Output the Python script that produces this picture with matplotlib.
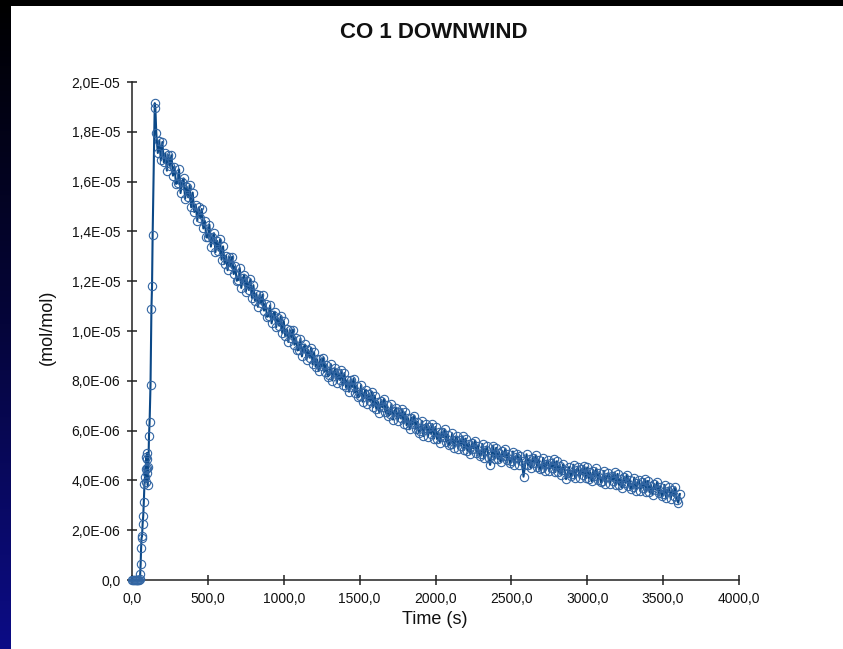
import numpy as np
import matplotlib
matplotlib.use("Agg")
import matplotlib.pyplot as plt
from matplotlib.colors import LinearSegmentedColormap
from matplotlib.patches import Rectangle
from matplotlib.ticker import FuncFormatter, MultipleLocator

plt.rcParams['font.family'] = ['Liberation Sans', 'DejaVu Sans']

# start-up and rise (s, 1e-6 mol/mol)
rise_t = [0, 6, 12, 18, 24, 30, 36, 42, 48, 51, 54, 57, 60, 63, 66, 70, 74, 78,
          82, 86, 89, 92, 94, 96, 98, 100, 102, 104, 108, 112, 116, 122, 128,
          132, 136, 150, 154]
rise_v = [0.0, 0.0, 0.0, 0.0, 0.0, 0.0, 0.0, 0.0, 0.0, 0.05, 0.25, 0.65, 1.28,
          1.70, 1.75, 2.25, 2.58, 3.15, 3.85, 4.15, 4.45, 3.95, 4.95, 4.30,
          5.10, 4.50, 4.85, 3.80, 4.55, 5.80, 6.35, 7.85, 10.9, 11.8, 13.85,
          19.15, 18.95]

# decay, one reading every 10 s from 160 s to 3610 s (1e-6 mol/mol)
decay_start, decay_step = 160, 10
decay_v = [
    17.95, 17.15, 17.65, 16.85,
    17.59, 16.77, 17.13, 16.44, 17.06, 16.63, 17.06, 16.24, 16.60, 15.91,
    15.94, 16.49, 15.54, 15.97, 16.13, 15.31, 15.80, 15.37, 15.86, 14.97,
    15.56, 14.78, 15.08, 14.42, 14.96, 14.54, 14.90, 14.12, 14.42, 13.76,
    13.76, 14.27, 13.39, 13.78, 13.93, 13.17, 13.62, 13.23, 13.68, 12.86,
    13.40, 12.71, 13.02, 12.44, 12.97, 12.61, 12.98, 12.29, 12.60, 12.02,
    12.05, 12.53, 11.73, 12.11, 12.26, 11.58, 12.00, 11.65, 12.08, 11.33,
    11.84, 11.22, 11.49, 10.97, 11.44, 11.12, 11.45, 10.82, 11.10, 10.57,
    10.60, 11.03, 10.31, 10.64, 10.77, 10.15, 10.53, 10.21, 10.59, 9.92,
    10.40, 9.79, 10.07, 9.56, 10.04, 9.73, 10.06, 9.45, 9.73, 9.22,
    9.25, 9.69, 8.98, 9.32, 9.46, 8.85, 9.24, 8.93, 9.32, 8.66,
    9.14, 8.57, 8.86, 8.39, 8.87, 8.59, 8.92, 8.36, 8.65, 8.17,
    8.23, 8.67, 8.01, 8.35, 8.50, 7.93, 8.32, 8.04, 8.43, 7.82,
    8.31, 7.74, 8.03, 7.56, 8.03, 7.75, 8.09, 7.52, 7.81, 7.33,
    7.39, 7.83, 7.16, 7.50, 7.64, 7.07, 7.45, 7.17, 7.55, 6.94,
    7.40, 6.87, 7.16, 6.72, 7.19, 6.93, 7.27, 6.74, 7.03, 6.59,
    6.65, 7.06, 6.44, 6.77, 6.92, 6.38, 6.75, 6.49, 6.86, 6.28,
    6.74, 6.21, 6.50, 6.05, 6.52, 6.26, 6.60, 6.07, 6.36, 5.91,
    5.97, 6.39, 5.78, 6.12, 6.28, 5.75, 6.13, 5.88, 6.26, 5.68,
    6.15, 5.66, 5.93, 5.52, 5.96, 5.73, 6.05, 5.55, 5.83, 5.41,
    5.48, 5.89, 5.30, 5.62, 5.77, 5.27, 5.64, 5.40, 5.77, 5.23,
    5.68, 5.19, 5.47, 5.06, 5.51, 5.28, 5.60, 5.11, 5.39, 4.98,
    5.05, 5.46, 4.89, 5.21, 5.37, 4.88, 4.62, 5.02, 5.40, 4.87,
    5.31, 4.86, 5.12, 4.75, 5.17, 4.96, 5.27, 4.81, 5.08, 4.70,
    4.77, 5.16, 4.63, 4.93, 5.08, 4.63, 4.98, 4.76, 4.15, 4.62,
    5.05, 4.60, 4.86, 4.49, 4.91, 4.70, 5.01, 4.55, 4.82, 4.44,
    4.51, 4.90, 4.36, 4.67, 4.81, 4.36, 4.71, 4.49, 4.84, 4.34,
    4.77, 4.32, 4.58, 4.21, 4.64, 4.42, 4.05, 4.28, 4.54, 4.17,
    4.24, 4.63, 4.09, 4.40, 4.55, 4.10, 4.44, 4.23, 4.58, 4.09,
    4.52, 4.07, 4.33, 3.96, 4.39, 4.17, 4.48, 4.03, 4.29, 3.92,
    3.99, 4.38, 3.84, 4.15, 4.30, 3.84, 4.19, 3.98, 4.32, 3.83,
    4.26, 3.81, 4.07, 3.70, 4.12, 3.91, 4.22, 3.76, 4.03, 3.65,
    3.72, 4.11, 3.57, 3.88, 4.02, 3.57, 3.92, 3.70, 4.05, 3.55,
    3.98, 3.53, 3.79, 3.42, 3.84, 3.63, 3.94, 3.48, 3.75, 3.37,
    3.44, 3.82, 3.28, 3.58, 3.72, 3.26, 3.60, 3.38, 3.72, 3.22,
    3.10, 3.45,
]

decay_t = decay_start + decay_step * np.arange(len(decay_v))
t = np.concatenate([rise_t, decay_t])
conc = np.concatenate([rise_v, decay_v]) * 1e-6

W, H = 843, 649
fig = plt.figure(figsize=(W / 100, H / 100), dpi=100)
fig.patch.set_facecolor('white')

# slide background bits: black top bar and dark blue strip on the left
fig.patches.append(Rectangle((0, 1 - 6 / H), 1, 6 / H, transform=fig.transFigure,
                             facecolor='black', edgecolor='none'))
strip = fig.add_axes([0, 0, 11 / W, 1])
grad = np.linspace(0, 1, 256).reshape(-1, 1)
cmap = LinearSegmentedColormap.from_list('slide', ['#000000', '#05053a', '#0c0c86'])
strip.imshow(grad, aspect='auto', cmap=cmap, extent=[0, 1, 1, 0])
strip.axis('off')

ax = fig.add_axes([132 / W, 1 - 580 / H, (739 - 132) / W, (580 - 82) / H])
ax.plot(t, conc, color='#0b4887', lw=1.5, marker='o', ms=6, mfc='none',
        mec='#3366a3', mew=0.8, clip_on=False, zorder=3)

ax.set_xlim(0, 4000)
ax.set_ylim(0, 2e-5)
ax.xaxis.set_major_locator(MultipleLocator(500))
ax.yaxis.set_major_locator(MultipleLocator(2e-6))
ax.xaxis.set_major_formatter(FuncFormatter(lambda v, p: f"{v:.1f}".replace('.', ',')))


def yfmt(v, p):
    if abs(v) < 1e-12:
        return "0,0"
    return f"{v:.1E}".replace('.', ',')


ax.yaxis.set_major_formatter(FuncFormatter(yfmt))

for s in ['top', 'right']:
    ax.spines[s].set_visible(False)
for s in ['left', 'bottom']:
    ax.spines[s].set_color('#222222')
    ax.spines[s].set_linewidth(1.1)
ax.tick_params(direction='inout', length=6.5, width=1.1, color='#222222',
               labelsize=10, labelcolor='#111111')
ax.tick_params(axis='y', pad=5.2)
ax.tick_params(axis='x', pad=5.5)

fig.text(434 / W, 1 - 33 / H, "CO 1 DOWNWIND", ha='center', va='center',
         fontsize=16, fontweight='bold', color='#111111')
fig.text(435 / W, 1 - 620 / H, "Time (s)", ha='center', va='center',
         fontsize=13, color='#111111')
fig.text(47 / W, 1 - 327 / H, "(mol/mol)", ha='center', va='center',
         rotation=90, fontsize=13, color='#111111')

fig.savefig("out.png", dpi=100)
